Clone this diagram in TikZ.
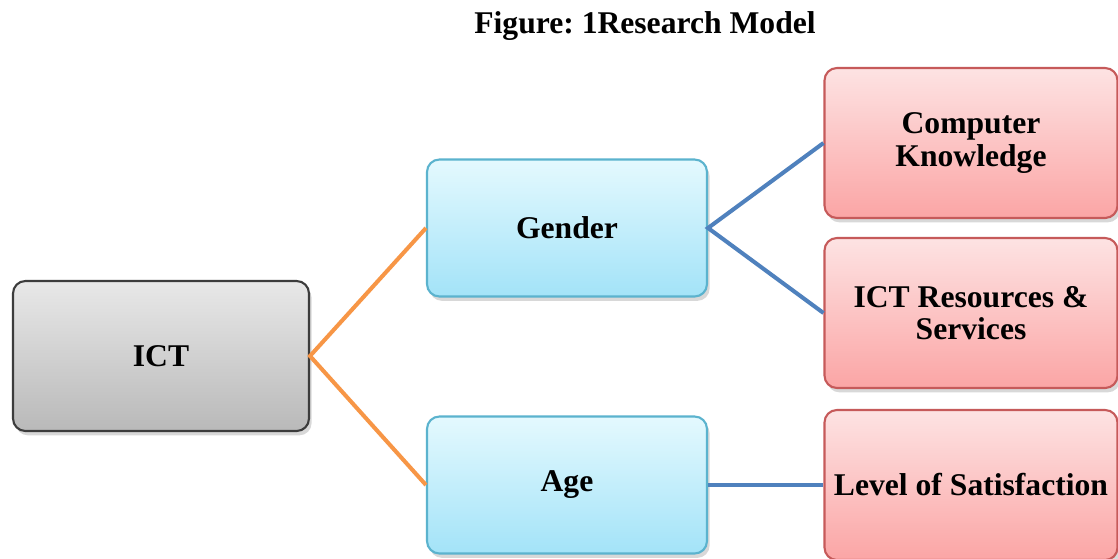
\documentclass[tikz,border=0pt]{standalone}
\usepackage{fontspec}
\setmainfont{Liberation Serif}
\usepackage{xcolor}
\usetikzlibrary{shadows}
\frenchspacing
\definecolor{grayedge}{HTML}{3C3C3C}
\definecolor{graytop}{HTML}{E8E8E8}
\definecolor{graybot}{HTML}{B9B9B9}
\definecolor{blueedge}{HTML}{5BB3CE}
\definecolor{bluetop}{HTML}{E4F9FE}
\definecolor{bluebot}{HTML}{A3E3F8}
\definecolor{rededge}{HTML}{C65A5A}
\definecolor{redtop}{HTML}{FDE3E3}
\definecolor{redbot}{HTML}{FBA5A5}
\definecolor{linkorange}{HTML}{F79646}
\definecolor{linkblue}{HTML}{4F81BD}
\tikzset{
  basebox/.style={rounded corners=7pt,line width=1.2pt,align=center,
                  font=\fontsize{18}{18.5}\selectfont\bfseries,inner sep=3pt,
                  drop shadow={shadow xshift=1.5pt,shadow yshift=-2.5pt,opacity=0.3}},
  rootbox/.style={basebox,draw=grayedge,top color=graytop,bottom color=graybot,
                  minimum width=5.92cm,minimum height=3.0cm},
  midbox/.style={basebox,draw=blueedge,top color=bluetop,bottom color=bluebot,
                 minimum width=5.6cm,minimum height=2.74cm},
  leafbox/.style={basebox,draw=rededge,top color=redtop,bottom color=redbot,
                  minimum width=5.86cm,minimum height=3.0cm},
  orangelink/.style={draw=linkorange,line width=2.3pt},
  bluelink/.style={draw=linkblue,line width=2.3pt}
}

\begin{document}
\begin{tikzpicture}[x=0.02cm,y=-0.02cm]
  \useasboundingbox[fill=white] (0,0) rectangle (1118,558);
  % title
  \node[font=\fontsize{18}{18}\selectfont\bfseries] (title) at (645,26) {Figure: 1Research Model};

  % boxes
  \node[rootbox] (ict) at (161,356) {ICT};
  \node[midbox] (gender) at (567,228) {Gender};
  \node[midbox] (age) at (567,485) {Age};
  \node[leafbox] (know) at (971,143) {Computer\\Knowledge};
  \node[leafbox] (res) at (971,313) {ICT Resources \&\\Services};
  \node[leafbox] (sat) at (971,485) {Level of Satisfaction};

  % links
  \draw[orangelink] (gender.west) -- (ict.east) -- (age.west);
  \draw[bluelink] (know.west) -- (gender.east) -- (res.west);
  \draw[bluelink] (age.east) -- (sat.west);
\end{tikzpicture}
\end{document}
